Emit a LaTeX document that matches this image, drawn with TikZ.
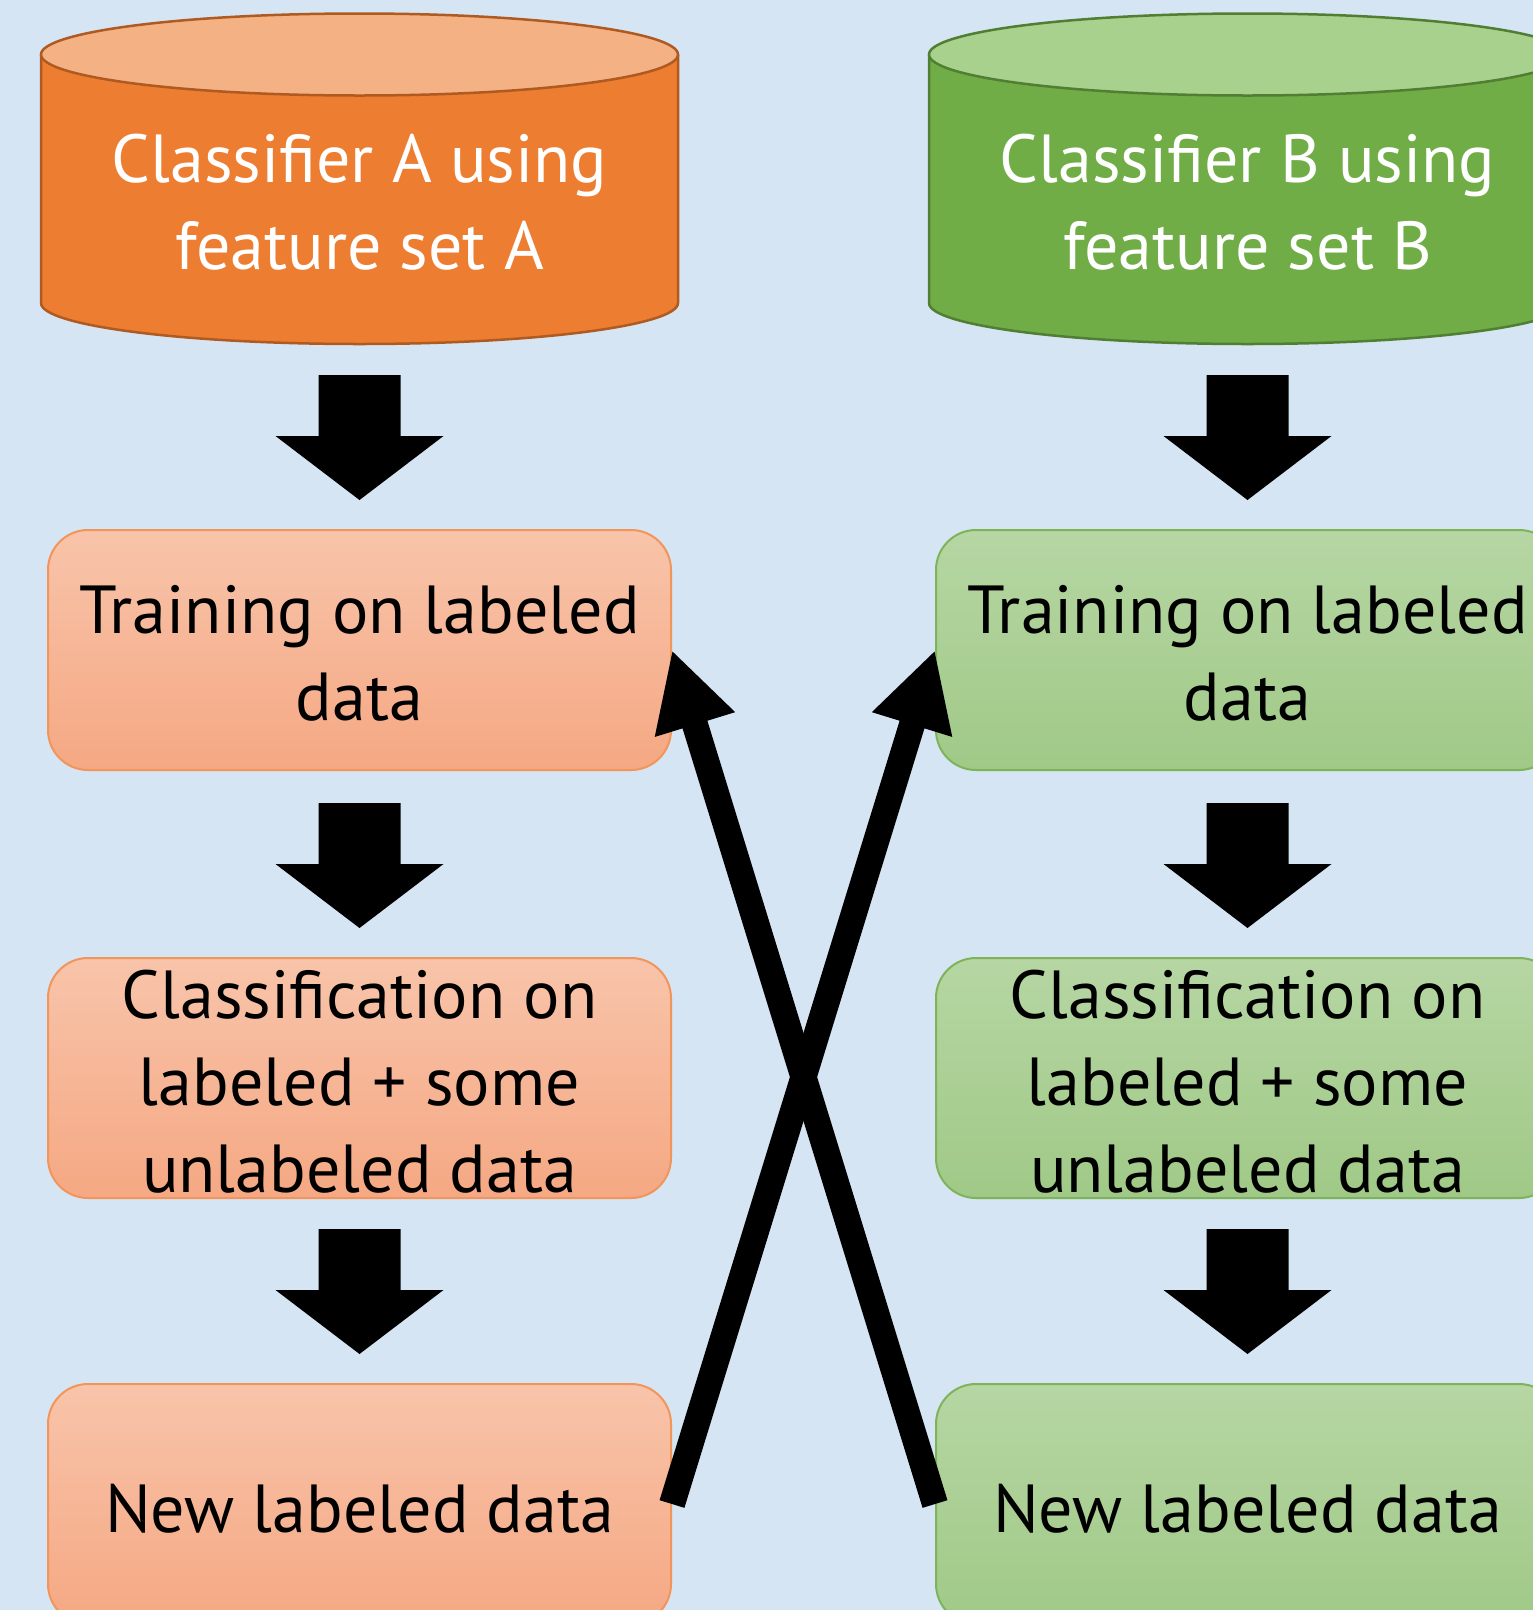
\documentclass[tikz,border=0pt]{standalone}
\usepackage{fontspec}
\setmainfont{PT Sans}
\usetikzlibrary{arrows.meta}
\definecolor{bg}{HTML}{D6E5F3}
\definecolor{cylA}{HTML}{ED7D31}
\definecolor{cylAtop}{HTML}{F4B183}
\definecolor{cylAline}{HTML}{AE5A21}
\definecolor{cylB}{HTML}{70AD47}
\definecolor{cylBtop}{HTML}{A9D18E}
\definecolor{cylBline}{HTML}{507E32}
\definecolor{boxAtop}{HTML}{F8C4AA}
\definecolor{boxAbot}{HTML}{F5A883}
\definecolor{boxAline}{HTML}{F2955A}
\definecolor{boxBtop}{HTML}{B6D6A3}
\definecolor{boxBbot}{HTML}{A0C987}
\definecolor{boxBline}{HTML}{7DB45A}
\tikzset{
  bigtext/.style={font=\fontsize{68}{87}\selectfont, align=center},
  boxbase/.style={rounded corners=40pt, minimum width=623pt, minimum height=240pt, line width=2pt},
  boxA/.style={boxbase, draw=boxAline, top color=boxAtop, bottom color=boxAbot},
  boxB/.style={boxbase, draw=boxBline, top color=boxBtop, bottom color=boxBbot},
  boxtext/.style={bigtext, text=black},
  cyltext/.style={bigtext, text=white},
  crossarrow/.style={line width=26pt, -{Triangle[length=78pt, width=78pt]}},
  blockdown/.pic={\fill[black] (-41,0) -- (41,0) -- (41,61) -- (84,61) -- (0,125) -- (-84,61) -- (-41,61) -- cycle;}
}
\begin{document}
\begin{tikzpicture}[x=1pt,y=-1pt]
\useasboundingbox[fill=bg] (0,0) rectangle (1533,1610);
\clip (0,0) rectangle (1533,1610);
% cylinder A
\fill[cylA] (41,54.5) -- (41,303) arc[start angle=180, end angle=0, x radius=318.5, y radius=41] -- (678,54.5) -- cycle;
\draw[cylAline, line width=2.5pt] (41,54.5) -- (41,303) arc[start angle=180, end angle=0, x radius=318.5, y radius=41] -- (678,54.5);
\draw[cylAline, fill=cylAtop, line width=2.5pt] (359.5,54.5) ellipse[x radius=318.5, y radius=41];
\node[cyltext] (ca) at (359.5,202) {Classifier A using\\feature set A};
% cylinder B
\fill[cylB] (929,54.5) -- (929,303) arc[start angle=180, end angle=0, x radius=318.5, y radius=41] -- (1566,54.5) -- cycle;
\draw[cylBline, line width=2.5pt] (929,54.5) -- (929,303) arc[start angle=180, end angle=0, x radius=318.5, y radius=41] -- (1566,54.5);
\draw[cylBline, fill=cylBtop, line width=2.5pt] (1247.5,54.5) ellipse[x radius=318.5, y radius=41];
\node[cyltext] (cb) at (1247.5,202) {Classifier B using\\feature set B};
% boxes
\node[boxA] (a1) at (359.5,650) {};
\node[boxtext] (a1t) at (359.5,653) {Training on labeled\\data};
\node[boxA] (a2) at (359.5,1078) {};
\node[boxtext] (a2t) at (359.5,1082) {Classification on\\labeled + some\\unlabeled data};
\node[boxA] (a3) at (359.5,1504) {};
\node[boxtext] (a3t) at (359.5,1509) {New labeled data};
\node[boxB] (b1) at (1247.5,650) {};
\node[boxtext] (b1t) at (1247.5,653) {Training on labeled\\data};
\node[boxB] (b2) at (1247.5,1078) {};
\node[boxtext] (b2t) at (1247.5,1082) {Classification on\\labeled + some\\unlabeled data};
\node[boxB] (b3) at (1247.5,1504) {};
\node[boxtext] (b3t) at (1247.5,1509) {New labeled data};
% block arrows
\pic at (359.5,375) {blockdown};
\pic at (359.5,803) {blockdown};
\pic at (359.5,1229) {blockdown};
\pic at (1247.5,375) {blockdown};
\pic at (1247.5,803) {blockdown};
\pic at (1247.5,1229) {blockdown};
% crossing arrows
\draw[crossarrow] (a3.east) -- (b1.west);
\draw[crossarrow] (b3.west) -- (a1.east);
\end{tikzpicture}
\end{document}
